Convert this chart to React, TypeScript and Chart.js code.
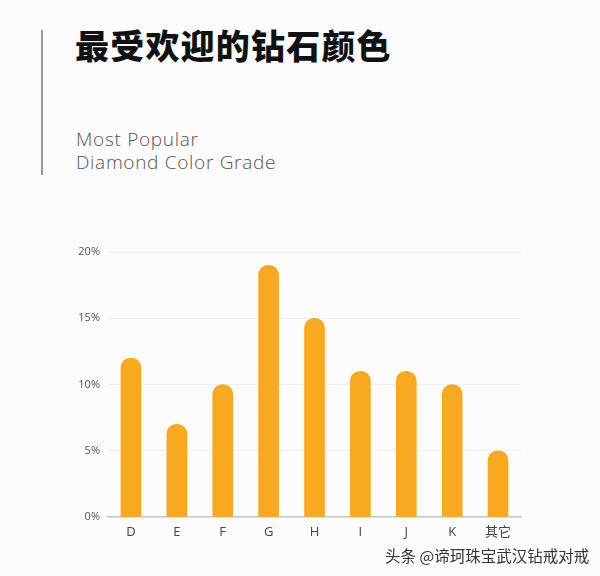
import React, { useEffect, useRef } from "react";
import { Chart, registerables } from "chart.js";

Chart.register(...registerables);

const categories = ["D", "E", "F", "G", "H", "I", "J", "K", "其它"];
const shares = [12, 7, 10, 19, 15, 11, 11, 10, 5];
const yTicks = [0, 5, 10, 15, 20];

const title = "最受欢迎的钻石颜色";
const subtitle1 = "Most Popular";
const subtitle2 = "Diamond Color Grade";
const watermark = "头条 @谛珂珠宝武汉钻戒对戒";

export default function App() {
  const ref = useRef<HTMLCanvasElement | null>(null);

  useEffect(() => {
    document.body.style.margin = "0";
    const ctx = ref.current!;
    const chart = new Chart(ctx, {
      type: "bar",
      data: {
        labels: categories,
        datasets: [
          {
            data: shares,
            backgroundColor: "#F9A91F",
            barThickness: 20,
            borderRadius: { topLeft: 10, topRight: 10, bottomLeft: 0, bottomRight: 0 },
            borderSkipped: "bottom",
          },
        ],
      },
      options: {
        animation: false,
        responsive: false,
        maintainAspectRatio: false,
        layout: { padding: { left: 0, right: 79, top: 22, bottom: 0 } },
        plugins: { legend: { display: false }, tooltip: { enabled: false } },
        scales: {
          x: {
            grid: { display: false, drawTicks: false },
            border: { display: true, color: "#c8c8c8", width: 1.5 },
            ticks: {
              color: "#444",
              font: { family: "'Open Sans', 'Noto Sans CJK SC', sans-serif", size: 13 },
              padding: 7,
            },
            afterFit: (s: any) => {
              s.height = 33;
            },
          },
          y: {
            min: 0,
            max: 20,
            afterBuildTicks: (s: any) => {
              s.ticks = yTicks.map((v) => ({ value: v }));
            },
            grid: { color: "#eef0f3", drawTicks: false },
            border: { display: false },
            ticks: {
              color: "#555",
              font: { family: "'Open Sans', sans-serif", size: 11 },
              padding: 8,
              callback: (v: any) => v + "%",
            },
            afterFit: (s: any) => {
              s.width = 108;
            },
          },
        },
      },
    });
    return () => chart.destroy();
  }, []);

  return (
    <div
      style={{
        position: "relative",
        width: 600,
        height: 576,
        background: "#fcfcfd",
        overflow: "hidden",
      }}
    >
      <div
        style={{
          position: "absolute",
          left: 41,
          top: 30,
          width: 1.5,
          height: 145,
          background: "#9a9a9a",
        }}
      />
      <div
        style={{
          position: "absolute",
          left: 75,
          top: 23,
          fontFamily: "'Noto Sans CJK SC', sans-serif",
          fontWeight: 900,
          fontSize: 34,
          lineHeight: "44px",
          color: "#111",
          letterSpacing: 1.2,
          whiteSpace: "nowrap",
        }}
      >
        {title}
      </div>
      <div
        style={{
          position: "absolute",
          left: 76,
          top: 128,
          fontFamily: "'Open Sans', sans-serif",
          fontWeight: 300,
          fontSize: 19,
          lineHeight: "23px",
          letterSpacing: 0.7,
          color: "#555",
          whiteSpace: "nowrap",
        }}
      >
        {subtitle1}
        <br />
        {subtitle2}
      </div>
      <canvas
        ref={ref}
        width={600}
        height={320}
        style={{ position: "absolute", left: 0, top: 230, width: 600, height: 320 }}
      />
      <div
        style={{
          position: "absolute",
          left: 385,
          top: 544,
          fontFamily: "'Noto Sans CJK SC', sans-serif",
          fontSize: 15.5,
          lineHeight: "22px",
          color: "#333",
          textShadow: "0 0 2px #fff, 0 0 2px #fff",
          whiteSpace: "nowrap",
        }}
      >
        {watermark}
      </div>
    </div>
  );
}
